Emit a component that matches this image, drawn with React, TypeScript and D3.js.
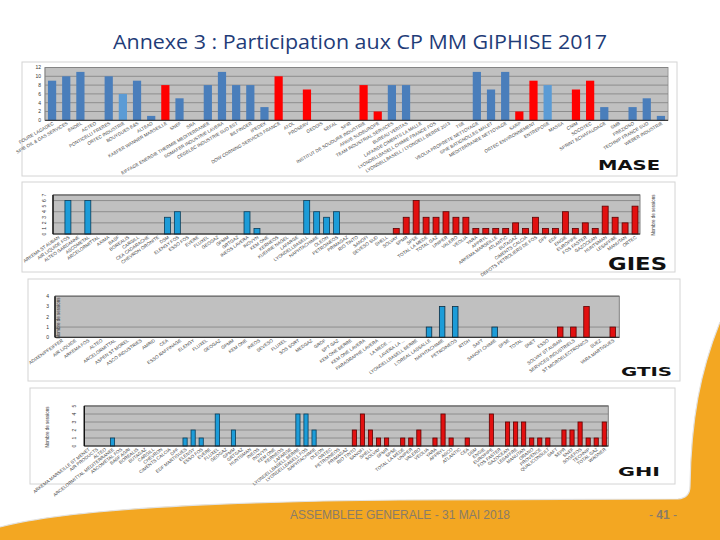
import React from "react";
import * as d3 from "d3";

// ---------- DATA ----------
const maseLabels = [
  "FOURE LAGADEC", "SPIE OIL & GAS SERVICES", "ENDEL", "ACTEO", "PONTICELLI FRERES",
  "ORTEC INDUSTRIE", "BOUYGUES E&S", "ALTEAD", "KAEFER WANNER MARSEILLE", "SNEF", "SRA",
  "EIFFAGE ENERGIE THERMIE MEDITERRANEE", "SOMAFER INDUSTRIE LAVERA", "CEGELEC INDUSTRIE SUD EST",
  "BILFINGER", "IPEDEX", "DOW CORNING SERVICES FRANCE", "ATOL", "PROSERV", "GEODIS", "SEFAL",
  "SPIR", "INSTITUT DE SOUDURE INDUSTRIE", "APAVE SUDEUROPE", "TEAM INDUSTRIAL SERVICES",
  "BUREAU VERITAS", "LAFARGE CIMENTS LA MALLE", "LYONDELLBASELL CHIMIE FRANCE FOS",
  "LYONDELLBASELL / LYONDELL BERRE 2013", "TSE", "VEOLIA PROPRETE NETTOYAGE",
  "SPIE BATIGNOLLES MALET", "MEDITERRANEE NETTOYAGE", "SARP", "ORTEC ENVIRONNEMENT",
  "ENTREPOSE", "MASSA", "CNIM", "SOCOTEC", "SPRINT ECHAFAUDAGE", "SMB", "PREZIOSO",
  "TECHNIP FRANCE SUD", "WEBER INDUSTRIE",
];
const maseValues = [9, 10, 11, 0, 10, 6, 9, 1, 8, 5, 0, 8, 11, 8, 8, 3, 10, 0, 7, 0, 0, 0, 8, 2, 8, 8, 0, 0, 0, 0, 11, 7, 11, 2, 9, 8, 0, 7, 9, 3, 0, 3, 5, 1];
const maseGroups = ["b","b","b","b","b","l","b","b","r","b","b","b","b","b","b","b","r","b","r","b","b","b","r","r","b","b","b","b","b","b","b","b","b","r","r","l","b","r","r","b","b","b","b","b"];
const maseTicks = [0, 2, 4, 6, 8, 10, 12];

const giesLabels = [
  "ARKEMA ST AUBAN", "AIR LIQUIDE FOS", "ALTEO GARDANNE", "ASCOMETAL", "ARCELORMITTAL",
  "AXIMA", "BASF", "BOREALIS", "CARGILL", "CEA CADARACHE", "CHEVRON ORONITE",
  "DSM", "ELENGY FOS", "ESSO FOS", "EVERE", "FLUXEL", "GEOGAZ", "GPMM", "GRTGAZ",
  "INEOS LAVERA", "INOVYN", "KEM ONE", "KERNEOS", "KUEHNE NAGEL", "LAFARGE",
  "LYONDELLBASELL", "NAPHTACHIMIE", "OLEON", "PETROINEOS", "PRIMAGAZ", "RIO TINTO",
  "SANOFI", "SEVESO SUD", "SHELL", "SOLVAY", "SPMR", "SPSE", "TOTAL LA MEDE",
  "TOTAL GAZ", "UNIPER", "VALERO", "VEOLIA", "YARA", "APPRYL", "ARKEMA MARSEILLE",
  "ATLANTIC", "BUTAGAZ", "CIMENTS CALCIA", "DEPOTS PETROLIERS DE FOS", "DPF", "EDF",
  "ENGIE", "EUROPIPE", "FOS FASTER", "GAZOCEAN", "HUNTSMAN", "LESAFFRE", "MANUTAN",
  "ORTEC",
];
const giesValues = [0, 6, 0, 6, 0, 0, 0, 0, 0, 0, 0, 3, 4, 0, 0, 0, 0, 0, 0, 4, 1, 0, 0, 0, 0, 6, 4, 3, 4, 0, 0, 0, 0, 0, 1, 3, 6, 3, 3, 4, 3, 3, 1, 1, 1, 1, 2, 1, 3, 1, 1, 4, 1, 2, 1, 5, 3, 2, 5];
const giesTicks = [0, 1, 2, 3, 4, 5, 6, 7];

const gtisLabels = [
  "ADIXEN/PFEIFFER", "AIR LIQUIDE", "ARKEMA FOS", "ALTEO", "ARCELORMITTAL",
  "ASPEN ST MOREL", "ASCO INDUSTRIES", "AMRID", "CEA", "ESSO RAFFINAGE", "ELENGY",
  "FLUXEL", "GEOGAZ", "GPMM", "KEM ONE", "INEOS", "SEVESO", "FLUXEL", "SOS SORT",
  "MEDGAZ", "GRDF", "SPT GAZ", "KEM ONE BERRE", "KEM ONE LAVERA", "PARAGRAPHE LAVERA",
  "LA MEDE ...", "LAVERA LA ...", "LYONDELLBASELL BERRE", "L'OREAL LASSALLE",
  "NAPHTACHIMIE", "PETROINEOS", "RTDH", "SAFT", "SANOFI CHIMIE", "SPSE", "TOTAL",
  "SNET", "ESSO", "SOLVAY ST AUBAN", "SERVICES INDUSTRIELS", "ST MICROELECTRONICS",
  "SUEZ", "YARA MARTIGUES",
];
const gtisValues = [0, 0, 0, 0, 0, 0, 0, 0, 0, 0, 0, 0, 0, 0, 0, 0, 0, 0, 0, 0, 0, 0, 0, 0, 0, 0, 0, 0, 1, 3, 3, 0, 0, 1, 0, 0, 0, 0, 1, 1, 3, 0, 1];
const gtisTicks = [0, 1, 2, 3, 4];

const ghiLabels = [
  "ARKEMA MARSEILLE ST MENET", "AIR PRODUCTS", "ALTEO", "ARCELORMITTAL MEDITERRANEE",
  "ASCOMETAL FOS", "BASF AGRI", "BOREALIS", "BUTAGAZ", "CARGILL", "CHEVRON",
  "CIMENTS CALCIA", "DPF", "EDF MARTIGUES", "ELENGY", "ESSO FOS", "EVERE", "FLUXEL",
  "GEOGAZ", "GPMM", "GRTGAZ", "HUNTSMAN", "INEOS", "INOVYN", "KEM ONE", "KERNEOS",
  "LAFARGE", "LYONDELLBASELL BERRE", "LYONDELLBASELL FOS", "NAPHTACHIMIE", "OLEON",
  "ORTEC", "PETROINEOS", "PRIMAGAZ", "RIO TINTO", "SANOFI", "SHELL", "SOLVAY",
  "SPMR", "SPSE", "TOTAL LA MEDE", "UNIPER", "VALERO", "VEOLIA", "YARA", "APPRYL",
  "ASCO", "ATLANTIC", "CEA", "DSM", "ENGIE", "EUROPIPE", "FOS FASTER", "GAZOCEAN",
  "LESAFFRE", "MANUTAN", "ORANO", "PROVENCE", "QUALICONSULT", "SAFT", "SEPR",
  "SNEF", "SOGEFOS", "TECHNIP", "TOTAL GAZ", "WAGNER",
];
const ghiValues = [0, 0, 0, 1, 0, 0, 0, 0, 0, 0, 0, 0, 1, 2, 1, 0, 4, 0, 2, 0, 0, 0, 0, 0, 0, 0, 4, 4, 2, 0, 0, 0, 0, 2, 4, 2, 1, 1, 0, 1, 1, 2, 0, 1, 4, 1, 0, 1, 0, 0, 4, 0, 3, 3, 3, 1, 1, 1, 0, 2, 2, 3, 1, 1, 3];
const ghiTicks = [0, 1, 2, 3, 4, 5];

// ---------- STYLE ----------
const W = 720;
const H = 540;
const font = "'Liberation Sans', Arial, sans-serif";

type Panel = {
  name: string;
  frame: [number, number, number, number];
  plot: { x0: number; x1: number; yTop: number; yBot: number };
  max: number;
  ticks: number[];
  grid: number[];
  values: number[];
  groups: string[];
  labels: string[];
  colors: Record<string, string>;
  strokes: Record<string, string>;
  barFrac: number;
  tickMode: "plain" | "rot";
  tickX: number;
  nameBox: [number, number, number, number];
  yTitle?: [number, number];
  axisDark: boolean;
  angle: number;
};

const gGroups = (vals: number[], split: number) => vals.map((_, i) => (i < split ? "b" : "r"));

const panels: Panel[] = [
  {
    name: "MASE",
    frame: [22, 62, 655, 114],
    plot: { x0: 45, x1: 668, yTop: 67.5, yBot: 120.3 },
    max: 12,
    ticks: maseTicks,
    grid: [2, 4, 6, 8, 10, 12],
    values: maseValues,
    groups: maseGroups,
    labels: maseLabels,
    colors: { b: "#4A7EBB", l: "#5B9BD5", r: "#FF0000" },
    strokes: { b: "none", l: "none", r: "none" },
    barFrac: 0.58,
    tickMode: "plain",
    tickX: 41,
    nameBox: [598, 170, 62, 14],
    axisDark: false,
    angle: -30,
  },
  {
    name: "GIES",
    frame: [22, 182, 653, 90],
    plot: { x0: 53, x1: 640, yTop: 195, yBot: 234 },
    max: 7,
    ticks: giesTicks,
    grid: [2, 4, 6],
    values: giesValues,
    groups: gGroups(giesValues, 30),
    labels: giesLabels,
    colors: { b: "#1C9CD8", r: "#E21010" },
    strokes: { b: "#0B3E5A", r: "#5E0000" },
    barFrac: 0.6,
    tickMode: "rot",
    tickX: 46,
    nameBox: [608, 270, 59, 17],
    yTitle: [655, 215],
    axisDark: true,
    angle: -35,
  },
  {
    name: "GTIS",
    frame: [28, 279, 652, 102],
    plot: { x0: 55, x1: 619.3, yTop: 296.3, yBot: 337.3 },
    max: 4,
    ticks: gtisTicks,
    grid: [1],
    values: gtisValues,
    groups: gGroups(gtisValues, 35),
    labels: gtisLabels,
    colors: { b: "#1C9CD8", r: "#E21010" },
    strokes: { b: "#0B2E44", r: "#5E0000" },
    barFrac: 0.42,
    tickMode: "plain",
    tickX: 49,
    nameBox: [621, 376, 51, 12],
    yTitle: [59.5, 318],
    axisDark: true,
    angle: -35,
  },
  {
    name: "GHI",
    frame: [30, 388, 645, 96],
    plot: { x0: 84.3, x1: 608.3, yTop: 406, yBot: 446 },
    max: 5,
    ticks: ghiTicks,
    grid: [1, 2, 3, 4],
    values: ghiValues,
    groups: gGroups(ghiValues, 30),
    labels: ghiLabels,
    colors: { b: "#1C9CD8", r: "#E21010" },
    strokes: { b: "#0B3E5A", r: "#5E0000" },
    barFrac: 0.52,
    tickMode: "rot",
    tickX: 76,
    nameBox: [618, 476, 42, 12],
    yTitle: [48.5, 427],
    axisDark: true,
    angle: -38,
  },
];

function BarPanel({ p }: { p: Panel }) {
  const idx = p.values.map((_, i) => String(i));
  const x = d3
    .scaleBand<string>()
    .domain(idx)
    .range([p.plot.x0, p.plot.x1])
    .paddingInner(1 - p.barFrac)
    .paddingOuter((1 - p.barFrac) / 2);
  const y = d3.scaleLinear().domain([0, p.max]).range([p.plot.yBot, p.plot.yTop]);
  const [fx, fy, fw, fh] = p.frame;
  const bw = x.bandwidth();
  return (
    <g>
      <rect x={fx} y={fy} width={fw} height={fh} fill="#fff" stroke="#d4d4d4" strokeWidth={1} />
      <rect
        x={p.plot.x0}
        y={p.plot.yTop}
        width={p.plot.x1 - p.plot.x0}
        height={p.plot.yBot - p.plot.yTop}
        fill="#C0C0C0"
        stroke={p.axisDark ? "#808080" : "#9a9a9a"}
        strokeWidth={1}
      />
      {p.grid.map((t) => (
        <line key={t} x1={p.plot.x0} x2={p.plot.x1} y1={y(t)} y2={y(t)} stroke="#808080" strokeWidth={0.8} />
      ))}
      {p.axisDark && (
        <line x1={p.plot.x0} x2={p.plot.x1} y1={p.plot.yTop} y2={p.plot.yTop} stroke="#777" strokeWidth={1.5} />
      )}
      {p.values.map((v, i) =>
        v > 0 ? (
          <rect
            key={i}
            x={x(String(i))!}
            y={y(v)}
            width={bw}
            height={y(0) - y(v)}
            fill={p.colors[p.groups[i]]}
            stroke={p.strokes[p.groups[i]]}
            strokeWidth={p.strokes[p.groups[i]] === "none" ? 0 : 0.8}
          />
        ) : null
      )}
      <line x1={p.plot.x0} x2={p.plot.x1} y1={p.plot.yBot} y2={p.plot.yBot} stroke="#222" strokeWidth={1} />
      <line
        x1={p.plot.x0}
        x2={p.plot.x0}
        y1={p.plot.yTop}
        y2={p.plot.yBot}
        stroke={p.axisDark ? "#111" : "#888"}
        strokeWidth={p.axisDark ? 1.4 : 0.8}
      />
      {p.ticks.map((t) =>
        p.tickMode === "plain" ? (
          <text key={t} x={p.tickX} y={y(t) + 1.8} fontSize={5} fill="#333" textAnchor="end" fontFamily={font}>
            {t}
          </text>
        ) : (
          <text
            key={t}
            transform={`translate(${p.tickX},${y(t)}) rotate(-90)`}
            fontSize={5}
            fill="#333"
            textAnchor="middle"
            fontFamily={font}
          >
            {t}
          </text>
        )
      )}
      {p.labels.map((l, i) => (
        <text
          key={i}
          transform={`translate(${x(String(i))! + bw / 2 + 2},${p.plot.yBot + 4}) rotate(${p.angle})`}
          fontSize={4.6}
          fill="#444"
          textAnchor="end"
          fontFamily={font}
        >
          {l}
        </text>
      ))}
      {p.yTitle && (
        <text
          transform={`translate(${p.yTitle[0]},${p.yTitle[1]}) rotate(-90)`}
          fontSize={4.5}
          fill="#333"
          textAnchor="middle"
          fontFamily={font}
        >
          Nombre de sessions
        </text>
      )}
      <text
        x={p.nameBox[0]}
        y={p.nameBox[1]}
        fontSize={p.nameBox[3]}
        fontWeight="bold"
        fill="#111"
        textLength={p.nameBox[2]}
        lengthAdjust="spacingAndGlyphs"
        fontFamily="'DejaVu Sans', sans-serif"
      >
        {p.name}
      </text>
    </g>
  );
}

export default function App() {
  return (
    <svg width={W} height={H} style={{ position: "absolute", left: 0, top: 0, background: "#fff" }}>
      <rect width={W} height={H} fill="#fff" />
      <path
        d="M0,540 L0,527 C60,511 190,502 400,500 L678,499 Q690,498 690,486 C691,420 700,372 720,322 L720,540 Z"
        fill="#F3A722"
      />
      <path
        d="M0,527 C60,511 190,502 400,500 L678,499 Q690,498 690,486 C691,420 700,372 720,322"
        fill="none"
        stroke="#e2e2e2"
        strokeWidth={1.2}
      />
      <text
        x={360}
        y={49}
        textAnchor="middle"
        fontSize={19.5}
        fill="#1F3C78"
        fontFamily="'Open Sans', sans-serif"
        textLength={494}
        lengthAdjust="spacingAndGlyphs"
      >
        Annexe 3 : Participation aux CP MM GIPHISE 2017
      </text>
      {panels.map((p) => (
        <BarPanel key={p.name} p={p} />
      ))}
      <text
        x={400}
        y={519}
        textAnchor="middle"
        fontSize={12.5}
        fill="#8a7c68"
        fontFamily="'Liberation Sans Narrow', 'Liberation Sans', sans-serif"
        textLength={220}
        lengthAdjust="spacingAndGlyphs"
      >
        ASSEMBLEE GENERALE - 31 MAI 2018
      </text>
      <text
        x={663}
        y={519}
        textAnchor="middle"
        fontSize={12}
        fill="#8a7c68"
        fontFamily="'Liberation Sans Narrow', 'Liberation Sans', sans-serif"
      >
        - <tspan fontWeight="bold">41</tspan> -
      </text>
    </svg>
  );
}
